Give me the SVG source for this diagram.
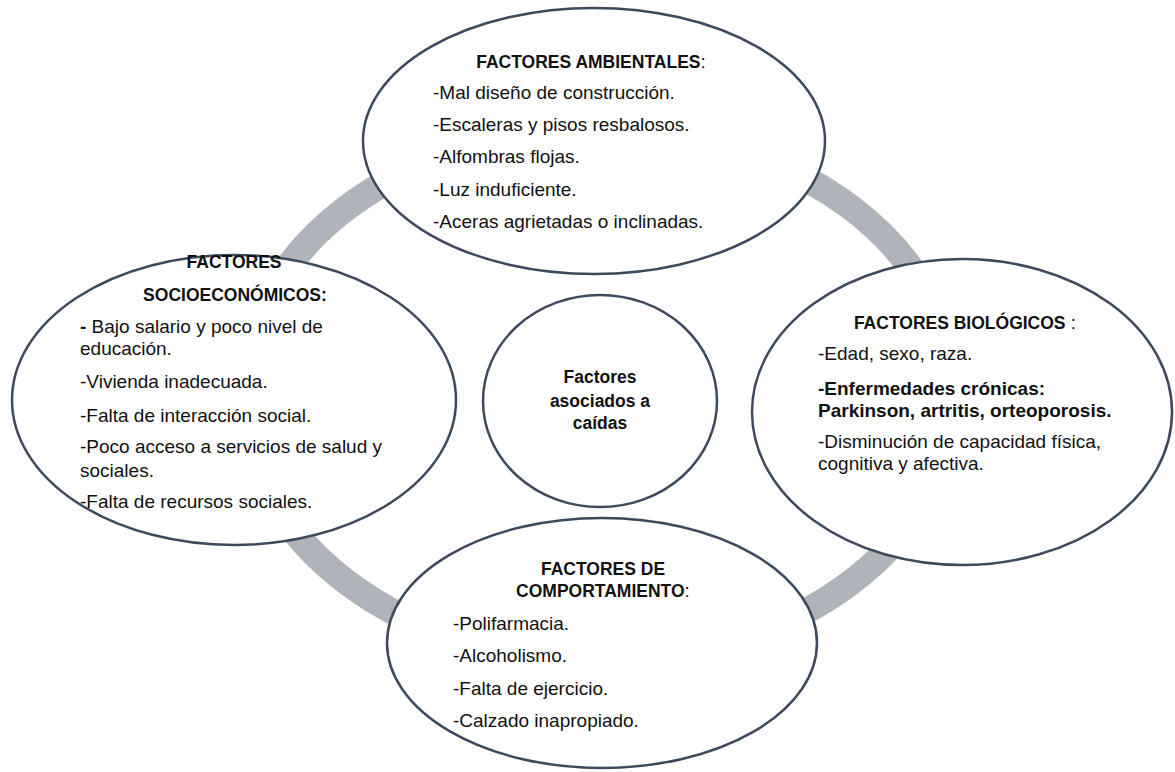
<svg xmlns="http://www.w3.org/2000/svg" width="1175" height="772" viewBox="0 0 1175 772">
  <style>
    .bubble { fill: #ffffff; stroke: #3d4a5c; stroke-width: 2.5; }
    .ring { fill: none; stroke: #b0b3b9; stroke-width: 26; }
    text { font-family: "Liberation Sans", Arial, sans-serif; fill: #111111; }
    .body { font-size: 19px; }
    .head { font-size: 17.5px; font-weight: bold; }
    .bold { font-weight: bold; }
    .reg { font-weight: normal; }
    .mid { text-anchor: middle; }
  </style>

  <!-- background cycle ring -->
  <g id="connectors">
    <ellipse class="ring" cx="599" cy="395" rx="355" ry="266"/>
  </g>

  <!-- environmental factors -->
  <g id="node-ambientales">
    <ellipse class="bubble" cx="594" cy="141" rx="231" ry="133"/>
    <text class="head mid" x="591" y="68">FACTORES AMBIENTALES<tspan class="reg" font-size="19">:</tspan></text>
    <text class="body" x="433" y="99">-Mal diseño de construcción.</text>
    <text class="body" x="433" y="131">-Escaleras y pisos resbalosos.</text>
    <text class="body" x="433" y="163">-Alfombras flojas.</text>
    <text class="body" x="433" y="196">-Luz induficiente.</text>
    <text class="body" x="433" y="228">-Aceras agrietadas o inclinadas.</text>
  </g>

  <!-- socioeconomic factors -->
  <g id="node-socioeconomicos">
    <ellipse class="bubble" cx="234" cy="400" rx="222" ry="145"/>
    <text class="head mid" x="234" y="268">FACTORES</text>
    <text class="head mid" x="235" y="301">SOCIOECONÓMICOS:</text>
    <text class="body" x="80" y="333"><tspan class="bold">-</tspan> Bajo salario y poco nivel de</text>
    <text class="body" x="80" y="355">educación.</text>
    <text class="body" x="80" y="388">-Vivienda inadecuada.</text>
    <text class="body" x="80" y="422">-Falta de interacción social.</text>
    <text class="body" x="80" y="453">-Poco acceso a servicios de salud y</text>
    <text class="body" x="80" y="477">sociales.</text>
    <text class="body" x="80" y="508">-Falta de recursos sociales.</text>
  </g>

  <!-- biological factors -->
  <g id="node-biologicos">
    <ellipse class="bubble" cx="962" cy="412" rx="210" ry="153"/>
    <text class="head mid" x="965" y="329">FACTORES BIOLÓGICOS<tspan class="reg" font-size="19"> :</tspan></text>
    <text class="body" x="818" y="360">-Edad, sexo, raza.</text>
    <text class="body bold" x="818" y="395" font-size="18.5">-Enfermedades crónicas:</text>
    <text class="body bold" x="818" y="417" font-size="18.5">Parkinson, artritis, orteoporosis.</text>
    <text class="body" x="818" y="448">-Disminución de capacidad física,</text>
    <text class="body" x="818" y="470">cognitiva y afectiva.</text>
  </g>

  <!-- behavioural factors -->
  <g id="node-comportamiento">
    <ellipse class="bubble" cx="602" cy="643" rx="215" ry="125"/>
    <text class="head mid" x="603" y="575">FACTORES DE</text>
    <text class="head mid" x="603" y="597">COMPORTAMIENTO<tspan class="reg" font-size="19">:</tspan></text>
    <text class="body" x="453" y="630">-Polifarmacia.</text>
    <text class="body" x="453" y="662">-Alcoholismo.</text>
    <text class="body" x="453" y="695">-Falta de ejercicio.</text>
    <text class="body" x="453" y="727">-Calzado inapropiado.</text>
  </g>

  <!-- central topic -->
  <g id="node-centro">
    <ellipse class="bubble" cx="600" cy="401" rx="117" ry="106"/>
    <text class="head mid" x="600" y="383">Factores</text>
    <text class="head mid" x="600" y="407">asociados a</text>
    <text class="head mid" x="600" y="429">caídas</text>
  </g>
</svg>
